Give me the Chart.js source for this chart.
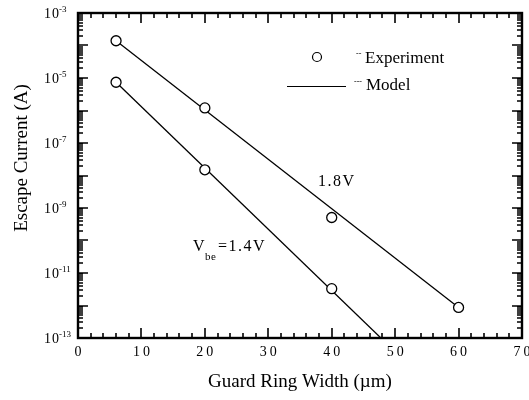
<!DOCTYPE html>
<html>
<head>
    <title>Escape Current vs Guard Ring Width</title>
    <script src="https://cdn.jsdelivr.net/npm/chart.js"></script>
    <style>
        body { margin: 0; background: #fff; }
        canvas { display: block; }
    </style>
</head>
<body>
    <canvas id="escapeChart" width="529" height="400"></canvas>
    <script>
        // measured points (experiment)
        var width18 = [6, 20, 40, 60];
        var current18 = [1.4e-4, 1.2e-6, 5.1e-10, 8.7e-13];
        var width14 = [6, 20, 40];
        var current14 = [7.4e-6, 1.5e-8, 3.3e-12];

        // model lines (end points of the fits)
        var modelWidth18 = [6, 60];
        var modelCurrent18 = [1.4e-4, 8.7e-13];
        var modelWidth14 = [6, 48];
        var modelCurrent14 = [7.4e-6, 9e-14];

        var xTicks = [0, 10, 20, 30, 40, 50, 60, 70];
        var yTickExponents = [-3, -5, -7, -9, -11, -13];

        var SERIF = "'Liberation Serif', 'Times New Roman', serif";

        function toPoints(xs, ys) {
            return xs.map(function (x, i) { return { x: x, y: ys[i] }; });
        }

        // frame, inward ticks, labels, legend and notes
        var decorations = {
            id: 'decorations',
            afterDatasetsDraw: function (chart) {
                var ctx = chart.ctx;
                var a = chart.chartArea;
                var xs = chart.scales.x;
                var ys = chart.scales.y;
                ctx.save();
                ctx.strokeStyle = '#000';
                ctx.fillStyle = '#000';

                // ticks
                ctx.lineWidth = 1.6;
                ctx.beginPath();
                for (var v = 0; v <= 70; v += 2) {
                    var px = Math.round(xs.getPixelForValue(v));
                    var len = (v % 10 === 0) ? 10 : 5;
                    ctx.moveTo(px, a.bottom); ctx.lineTo(px, a.bottom - len);
                    ctx.moveTo(px, a.top); ctx.lineTo(px, a.top + len);
                }
                for (var e = -13; e < -3; e++) {
                    for (var m = 1; m <= 9; m++) {
                        if (m === 1 && e === -13) continue;
                        var py = Math.round(ys.getPixelForValue(m * Math.pow(10, e)));
                        var l = (m === 1) ? 10 : 5;
                        ctx.moveTo(a.left, py); ctx.lineTo(a.left + l, py);
                        ctx.moveTo(a.right, py); ctx.lineTo(a.right - l, py);
                    }
                }
                ctx.stroke();

                // frame
                ctx.lineWidth = 2.4;
                ctx.strokeRect(a.left, a.top, a.right - a.left, a.bottom - a.top);

                // x tick labels
                ctx.font = '14px ' + SERIF;
                ctx.letterSpacing = '3px';
                ctx.textAlign = 'center';
                ctx.textBaseline = 'middle';
                xTicks.forEach(function (t) {
                    ctx.fillText(String(t), xs.getPixelForValue(t) + 1.5, 352);
                });

                // y tick labels: 10 with superscript exponent
                ctx.textAlign = 'left';
                yTickExponents.forEach(function (p) {
                    var py = ys.getPixelForValue(Math.pow(10, p));
                    ctx.font = '14px ' + SERIF;
                    ctx.letterSpacing = '1px';
                    ctx.textBaseline = 'alphabetic';
                    ctx.fillText('10', 44, py + 5);
                    ctx.font = '9px ' + SERIF;
                    ctx.letterSpacing = '0px';
                    ctx.fillText(String(p), 59, py - 1);
                });
                ctx.letterSpacing = '0px';

                // axis titles
                ctx.font = '19px ' + SERIF;
                ctx.textAlign = 'center';
                ctx.textBaseline = 'middle';
                ctx.fillText('Guard Ring Width (\u00b5m)', 300, 382);
                ctx.save();
                ctx.translate(22, 158);
                ctx.rotate(-Math.PI / 2);
                ctx.fillText('Escape Current (A)', 0, 0);
                ctx.restore();

                // legend
                ctx.lineWidth = 1.2;
                ctx.beginPath();
                ctx.arc(317, 57, 4.5, 0, Math.PI * 2);
                ctx.stroke();
                ctx.beginPath();
                ctx.moveTo(287, 86.5); ctx.lineTo(346, 86.5);
                ctx.stroke();
                ctx.font = '17px ' + SERIF;
                ctx.textAlign = 'left';
                ctx.fillText('Experiment', 365, 59);
                ctx.fillText('Model', 366, 86);
                ctx.font = '8px ' + SERIF;
                ctx.fillText('--', 356, 54);
                ctx.fillText('---', 354, 82);

                // curve notes
                ctx.font = '16px ' + SERIF;
                ctx.letterSpacing = '1.5px';
                ctx.fillText('1.8V', 318, 182);
                ctx.fillText('V', 193, 247);
                ctx.fillText('=1.4V', 218, 247);
                ctx.font = '11px ' + SERIF;
                ctx.letterSpacing = '0.5px';
                ctx.fillText('be', 205, 257);

                ctx.restore();
            }
        };

        var pointStyle = {
            showLine: false,
            pointRadius: 5,
            pointBackgroundColor: '#fff',
            pointBorderColor: '#000',
            pointBorderWidth: 1.3,
            order: 1
        };
        var lineStyle = {
            showLine: true,
            pointRadius: 0,
            borderColor: '#000',
            borderWidth: 1.3,
            order: 2
        };

        new Chart(document.getElementById('escapeChart'), {
            type: 'scatter',
            data: {
                datasets: [
                    Object.assign({ label: 'Experiment 1.8V', data: toPoints(width18, current18) }, pointStyle),
                    Object.assign({ label: 'Experiment 1.4V', data: toPoints(width14, current14) }, pointStyle),
                    Object.assign({ label: 'Model 1.8V', data: toPoints(modelWidth18, modelCurrent18) }, lineStyle),
                    Object.assign({ label: 'Model 1.4V', data: toPoints(modelWidth14, modelCurrent14) }, lineStyle)
                ]
            },
            options: {
                responsive: false,
                animation: false,
                devicePixelRatio: 1,
                layout: { padding: { left: 78, right: 7, top: 13, bottom: 62 } },
                plugins: {
                    legend: { display: false },
                    tooltip: { enabled: false }
                },
                scales: {
                    x: { type: 'linear', min: 0, max: 70, display: false },
                    y: { type: 'logarithmic', min: 1e-13, max: 1e-3, display: false }
                }
            },
            plugins: [decorations]
        });
    </script>
</body>
</html>
